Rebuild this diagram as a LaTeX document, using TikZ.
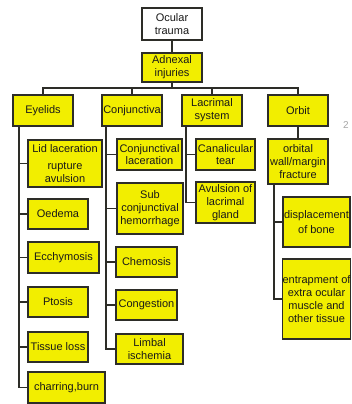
\documentclass[tikz,border=0pt]{standalone}
\usepackage{fontspec}
\setmainfont{Liberation Sans}
\definecolor{boxyellow}{RGB}{242,238,0}
\definecolor{boxline}{RGB}{45,45,40}
\tikzset{
  box/.style={draw=boxline, line width=1.7pt, fill=boxyellow, align=center,
    inner sep=0pt, font=\fontsize{11}{12.8}\selectfont, text=black!90},
  link/.style={draw=boxline, line width=1.5pt},
}
\begin{document}
\begin{tikzpicture}[x=1pt,y=-1pt]
\useasboundingbox (0,0) rectangle (351,404);
\clip (0,0) rectangle (351,404);
% top of the tree
\node[box, fill=white, minimum width=60pt, minimum height=32pt] (ocular) at (172,24) {Ocular\\trauma};
\node[box, minimum width=60pt, minimum height=29pt] (adnexal) at (172,67.5) {Adnexal\\injuries};
% first level
\node[box, minimum width=60pt, minimum height=31pt] (eyelids) at (43,110.5) {Eyelids};
\node[box, minimum width=60pt, minimum height=31pt] (conj) at (132,110.5) {Conjunctiva};
\node[box, minimum width=60pt, minimum height=31pt] (lacrimal) at (212,110.5) {Lacrimal\\system};
\node[box, minimum width=60pt, minimum height=31pt] (orbit) at (298,110.5) {Orbit};
% eyelids
\node[box, minimum width=74pt, minimum height=47pt] (lid) at (65,163.5) {Lid laceration\\[4pt]rupture\\avulsion};
\node[box, minimum width=60pt, minimum height=30pt] (oedema) at (58,214) {Oedema};
\node[box, minimum width=71pt, minimum height=31pt] (ecchymosis) at (63.5,257.5) {Ecchymosis};
\node[box, minimum width=60pt, minimum height=30pt] (ptosis) at (58,302) {Ptosis};
\node[box, minimum width=60pt, minimum height=30pt] (tissue) at (58,347) {Tissue loss};
\node[box, minimum width=77pt, minimum height=31pt] (charring) at (66.5,387.5) {charring,burn};
% conjunctiva
\node[box, minimum width=65pt, minimum height=31pt] (conjlac) at (149.5,154.5) {Conjunctival\\laceration};
\node[box, minimum width=66pt, minimum height=51pt] (subconj) at (150,208.5) {Sub\\conjunctival\\hemorrhage};
\node[box, minimum width=61pt, minimum height=30pt] (chemosis) at (146.5,262) {Chemosis};
\node[box, minimum width=61pt, minimum height=30pt] (congestion) at (146.5,305) {Congestion};
\node[box, minimum width=67pt, minimum height=30pt] (limbal) at (149.5,349) {Limbal\\ischemia};
% lacrimal system
\node[box, minimum width=59pt, minimum height=31pt] (canal) at (225.5,154.5) {Canalicular\\tear};
\node[box, minimum width=59pt, minimum height=41pt] (avulsion) at (225.5,202.5) {Avulsion of\\lacrimal\\gland};
% orbit
\node[box, minimum width=60pt, minimum height=45pt] (fracture) at (298,161.5) {orbital\\wall/margin\\fracture};
\node[box, minimum width=67pt, minimum height=50pt] (displace) at (316.5,222) {displacement\\[3pt]of bone};
\node[box, minimum width=67pt, minimum height=80pt] (entrap) at (316.5,299) {entrapment of\\extra ocular\\muscle and\\other tissue};
\node[text=black!35, font=\fontsize{10}{12}\selectfont] (pagenum) at (346,125) {2};
% connectors
\coordinate (bus) at (172,88);
\draw[link] (ocular) -- (adnexal);
\draw[link] (adnexal) -- (bus);
\foreach \n in {eyelids,conj,lacrimal,orbit}
  \draw[link] (bus) -| (\n.north);
\draw[link] (orbit) -- (fracture);
\coordinate (espine) at ([xshift=7pt]eyelids.south west);
\foreach \n in {lid,oedema,ecchymosis,ptosis,tissue,charring}
  \draw[link] (espine) |- (\n.west);
\coordinate (cspine) at ([xshift=5pt]conj.south west);
\foreach \n in {conjlac,subconj,chemosis,congestion,limbal}
  \draw[link] (cspine) |- (\n.west);
\coordinate (lspine) at ([xshift=5pt]lacrimal.south west);
\foreach \n in {canal,avulsion}
  \draw[link] (lspine) |- (\n.west);
\coordinate (ospine) at ([xshift=7pt]fracture.south west);
\foreach \n in {displace,entrap}
  \draw[link] (ospine) |- (\n.west);
\end{tikzpicture}
\end{document}
